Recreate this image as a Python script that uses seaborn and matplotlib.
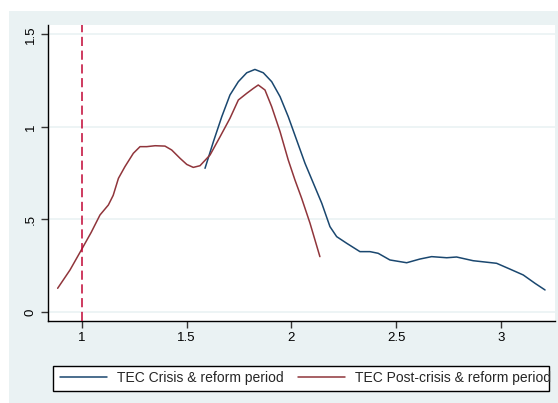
import matplotlib
matplotlib.use("Agg")
import matplotlib.pyplot as plt
from matplotlib.patches import Rectangle
import pandas as pd
import seaborn as sns

# Kernel density estimates of TEC for the two periods
crisis_x = [1.588, 1.628, 1.668, 1.707, 1.747, 1.787, 1.826, 1.866, 1.906, 1.946,
            1.985, 2.025, 2.065, 2.105, 2.145, 2.184, 2.216, 2.264, 2.327, 2.375,
            2.414, 2.470, 2.550, 2.613, 2.669, 2.741, 2.788, 2.867, 2.979, 3.042,
            3.106, 3.162, 3.210]
crisis_y = [0.776, 0.920, 1.055, 1.172, 1.244, 1.292, 1.310, 1.292, 1.244, 1.163,
            1.055, 0.929, 0.803, 0.695, 0.587, 0.461, 0.407, 0.371, 0.326, 0.326,
            0.317, 0.281, 0.266, 0.286, 0.299, 0.293, 0.297, 0.277, 0.263, 0.232,
            0.200, 0.155, 0.119]

post_x = [0.885, 0.944, 1.000, 1.045, 1.087, 1.127, 1.150, 1.175, 1.206, 1.246,
          1.278, 1.310, 1.350, 1.397, 1.429, 1.469, 1.501, 1.532, 1.564, 1.612,
          1.660, 1.707, 1.747, 1.787, 1.819, 1.842, 1.874, 1.906, 1.946, 1.985,
          2.017, 2.049, 2.089, 2.136]
post_y = [0.128, 0.227, 0.339, 0.430, 0.524, 0.578, 0.630, 0.722, 0.785, 0.857,
          0.893, 0.893, 0.898, 0.896, 0.875, 0.830, 0.797, 0.781, 0.790, 0.848,
          0.947, 1.046, 1.145, 1.181, 1.208, 1.226, 1.199, 1.109, 0.974, 0.821,
          0.713, 0.614, 0.479, 0.299]

series_labels = ["TEC Crisis & reform period", "TEC Post-crisis & reform period"]
x_ticks = [1, 1.5, 2, 2.5, 3]
x_ticklabels = ["1", "1.5", "2", "2.5", "3"]
y_ticks = [0, 0.5, 1, 1.5]
y_ticklabels = ["0", ".5", "1", "1.5"]
reference_x = 1

BLUE = "#1a476f"
RED = "#90353b"
VLINE = "#c10534"
BG = "#eaf2f3"

df = pd.concat([
    pd.DataFrame({"x": crisis_x, "y": crisis_y, "period": series_labels[0]}),
    pd.DataFrame({"x": post_x, "y": post_y, "period": series_labels[1]}),
], ignore_index=True)

sns.set_style("white")
plt.rcParams["font.family"] = ["Liberation Sans", "DejaVu Sans"]
plt.rcParams["lines.solid_joinstyle"] = "round"

fig = plt.figure(figsize=(5.58, 4.03), dpi=100, facecolor="white")
# graph region background
fig.patches.append(Rectangle((9 / 558, 0), 1, (403 - 11) / 403, transform=fig.transFigure,
                             facecolor=BG, edgecolor="none", zorder=-10))

ax = fig.add_axes([48 / 558, (403 - 320.7) / 403, (555 - 48) / 558, (320.7 - 25) / 403])
ax.set_facecolor("white")

for yt in y_ticks:
    ax.axhline(yt, color=BG, lw=1.2, zorder=0)

sns.lineplot(data=df, x="x", y="y", hue="period", sort=False, estimator=None,
             palette=[BLUE, RED], linewidth=1.1, ax=ax, legend=False)

ax.axvline(reference_x, color=VLINE, lw=1.1, dashes=(6, 3), zorder=3)

ax.set_xlim(0.839, 3.2575)
ax.set_ylim(-0.047, 1.55)
ax.set_xticks(x_ticks)
ax.set_xticklabels(x_ticklabels)
ax.set_yticks(y_ticks)
ax.set_yticklabels(y_ticklabels, rotation=90, va="center")
ax.set_xlabel("")
ax.set_ylabel("")

for side in ["top", "right"]:
    ax.spines[side].set_visible(False)
for side in ["left", "bottom"]:
    ax.spines[side].set_color("black")
    ax.spines[side].set_linewidth(1.0)
ax.tick_params(axis="both", which="major", direction="out", length=5, width=1,
               color="#333333", labelsize=9.5, labelcolor="black", pad=3)
ax.tick_params(axis="x", bottom=True)
ax.tick_params(axis="y", left=True)

# legend box
fig.patches.append(Rectangle((53.3 / 558, (403 - 391) / 403), (549.3 - 53.3) / 558, 25 / 403,
                             transform=fig.transFigure, facecolor="white",
                             edgecolor="black", lw=1.0, zorder=1))
handles = [plt.Line2D([], [], color=BLUE, lw=1.1), plt.Line2D([], [], color=RED, lw=1.1)]
fig.legend(handles, series_labels, loc="center left",
           bbox_to_anchor=(60 / 558, 1 - 378 / 403), ncol=2, frameon=False,
           fontsize=10, handlelength=3.4, handletextpad=0.7, columnspacing=1.05,
           borderpad=0, borderaxespad=0)

fig.savefig("out.png", dpi=100)
